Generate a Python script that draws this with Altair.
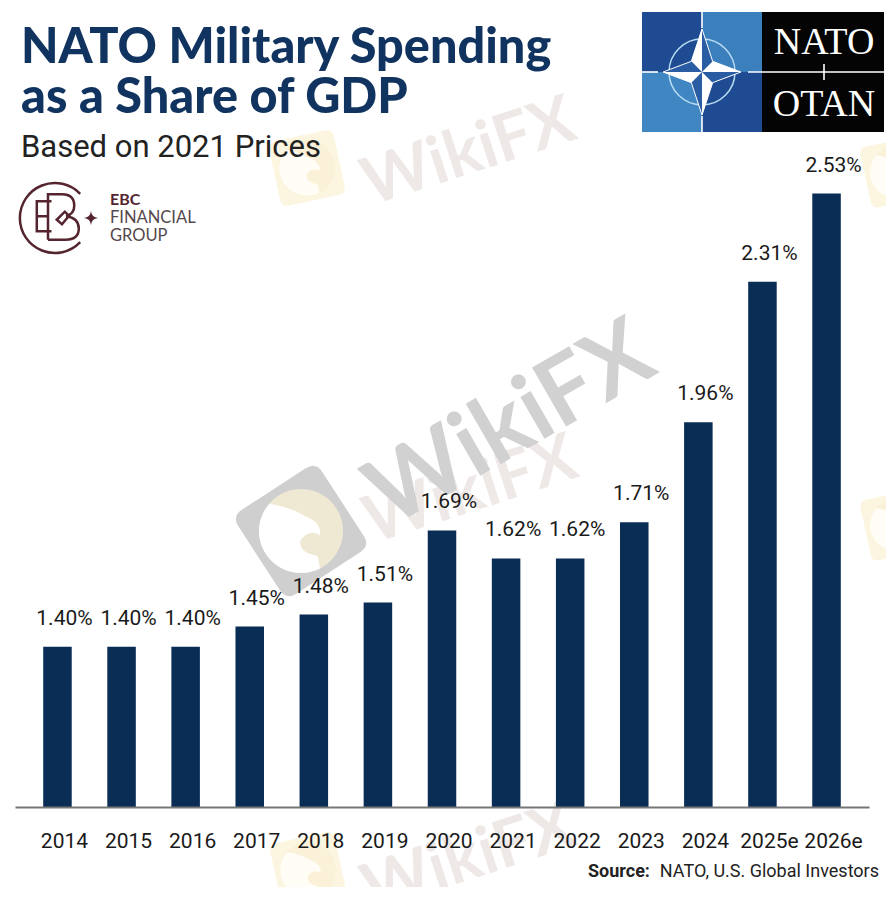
import altair as alt
import pandas as pd

years = ["2014","2015","2016","2017","2018","2019","2020","2021","2022","2023","2024","2025e","2026e"]
shares = [1.40,1.40,1.40,1.45,1.48,1.51,1.69,1.62,1.62,1.71,1.96,2.31,2.53]
labels = ["1.40%","1.40%","1.40%","1.45%","1.48%","1.51%","1.69%","1.62%","1.62%","1.71%","1.96%","2.31%","2.53%"]

NAVY = "#0a2d56"
BODY = "Roboto"
OX, OY = 15, 8
one = alt.Data(values=[{"a": 1}])

def txt(s, x, y, size, color="#1a1a1a", font=BODY, weight="normal", align="left", angle=0, opacity=1):
    return alt.Chart(one).mark_text(text=s, x=x-OX, y=y-OY, fontSize=size, color=color, font=font,
                                    fontWeight=weight, align=align, baseline="alphabetic",
                                    angle=angle % 360, opacity=opacity)

def box(x, x2, y, y2, color):
    return alt.Chart(one).mark_rect(x=x-OX, x2=x2-OX, y=y-OY, y2=y2-OY, color=color)

def line(x, x2, y, y2, color, w):
    return alt.Chart(one).mark_rule(color=color, strokeWidth=w).encode(
        x=alt.value(x-OX), x2=alt.value(x2-OX), y=alt.value(y-OY), y2=alt.value(y2-OY))

def shape(path, x, y, extent, fill=None, stroke=None, w=0, angle=0, opacity=1):
    kw = dict(shape=path, x=x-OX, y=y-OY, size=extent*extent, opacity=opacity, angle=angle % 360)
    if fill:
        kw.update(filled=True, fill=fill, strokeWidth=0)
    else:
        kw.update(filled=False, stroke=stroke, strokeWidth=w, fill="transparent")
    return alt.Chart(one).mark_point(**kw)

ROUND = "M-0.76,-1 L0.76,-1 Q1,-1 1,-0.76 L1,0.76 Q1,1 0.76,1 L-0.76,1 Q-1,1 -1,0.76 L-1,-0.76 Q-1,-1 -0.76,-1 Z"
CIRC = "M1,0 A1,1 0 1,1 -1,0 A1,1 0 1,1 1,0 Z"
HEAD = ("M-1,0 A1,1 0 0,1 -0.75,-0.65 Q-0.2,-0.55 0.1,-0.35 Q0.5,-0.2 0.45,0.1 Q0.2,-0.05 0,0.2 "
        "Q-0.1,0.5 0.4,0.6 L0.45,0.89 A1,1 0 0,1 -1,0 Z")

def badge(x, y, side, angle, sq, circ, eagle, opacity=1):
    r = side * 0.84
    return [shape(ROUND, x, y, side, fill=sq, angle=angle, opacity=opacity),
            shape(CIRC, x, y, r, fill=eagle, opacity=opacity),
            shape(HEAD, x, y, r, fill=circ, opacity=opacity)]

STAR_OUT = "M0,-1.05 L0.26,-0.26 L0.95,0 L0.26,0.26 L0,1.05 L-0.26,0.26 L-0.95,0 L-0.26,-0.26 Z"
STAR_HALF = "M0,-1.05 L0,0 L-0.26,-0.26 Z M0.95,0 L0,0 L0.26,-0.26 Z M0,1.05 L0,0 L0.26,0.26 Z M-0.95,0 L0,0 L-0.26,0.26 Z"

LOGO_E = ("M-0.1,-0.48 L-0.52,-0.48 L-0.52,0.38 L-0.1,0.38 M-0.52,-0.05 L-0.2,-0.05 "
          "M-0.2,0.62 L-0.2,-0.68 L0.2,-0.68 Q0.55,-0.68 0.55,-0.35 Q0.55,-0.12 0.32,-0.05 "
          "Q0.68,0 0.68,0.3 Q0.68,0.62 0.3,0.62 L-0.2,0.62 M0.05,0.05 L0.28,-0.18 L0.4,-0.06 L0.2,0.18 Z")
ARC = "M0.72,-0.69 A1,1 0 1,0 0.72,0.69"
SPARK = "M0,-1 Q0.1,-0.1 1,0 Q0.1,0.1 0,1 Q-0.1,0.1 -1,0 Q-0.1,-0.1 0,-1 Z"

LIGHT = "#eee9e7"
PALE = "#fcf5df"

marks = []
# watermarks
marks.append(txt("WikiFX", 475, 172, 66, LIGHT, "Lato", "bold", "center", -18))
marks.append(txt("WikiFX", 475, 878, 66, LIGHT, "Lato", "bold", "center", -18))
marks.append(txt("WikiFX", 477, 510, 66, LIGHT, "Lato", "bold", "center", -18))
marks.append(txt("WikiFX", 525, 450, 94, "#d2d1d1", "Lato", "bold", "center", -30))
marks += badge(307, 168, 66, -12, PALE, "#fffdf6", "#faf1d8")
marks += badge(308, 870, 66, -12, PALE, "#fffdf6", "#faf1d8")
marks += badge(896, 172, 62, -12, PALE, "#fffdf6", "#faf1d8")
marks += badge(896, 525, 62, -12, PALE, "#fffdf6", "#faf1d8")
marks += badge(301, 531, 100, -33, "#cfcfcf", "#ffffff", "#efe8d3")

# bars + axis + labels
df = pd.DataFrame({"year": years, "share": shares, "label": labels})
x = alt.X("year:N", sort=years, title=None,
          scale=alt.Scale(paddingInner=0.555, paddingOuter=0.44),
          axis=alt.Axis(labelAngle=0, labelFont=BODY, labelFontSize=21, labelColor="#1a1a1a", labelPadding=23,
                        labelOffset=7, labelOverlap=False, ticks=False, domainColor="#777777", domainWidth=2,
                        grid=False, labelBound=False, labelFlush=False, zindex=1))
y = alt.Y("share:Q", title=None, axis=None, scale=alt.Scale(domain=[1.0, 2.993], zero=False, clamp=True))
bars = alt.Chart(df).mark_bar(color=NAVY).encode(x=x, y=y)
vals = alt.Chart(df).mark_text(font=BODY, fontSize=21, color="#1a1a1a", dx=7, dy=-22, baseline="alphabetic").encode(
    x=x, y=y, text="label:N")
marks += [bars, vals]

# title block
marks.append(txt("NATO Military Spending", 21, 63, 48.6, "#10335f", "Lato", 900))
marks.append(txt("as a Share of GDP", 21, 113, 48.6, "#10335f", "Lato", 900))
marks.append(txt("Based on 2021 Prices", 21, 157, 31, "#222222"))

# EBC logo
MAROON = "#55252f"
marks.append(shape(ARC, 55, 218, 70, stroke=MAROON, w=2.5))
marks.append(shape(LOGO_E, 55, 218, 70, stroke=MAROON, w=2.5))
marks.append(shape(SPARK, 91, 218, 14, fill=MAROON))
marks.append(txt("EBC", 110, 205, 16, MAROON, "Lato", "bold"))
marks.append(txt("FINANCIAL", 110, 223, 16.5, "#55484c", "Lato"))
marks.append(txt("GROUP", 110, 241, 16.5, "#55484c", "Lato"))

# NATO logo
marks += [box(642, 702, 12, 72, "#1f4b92"), box(702, 762, 12, 72, "#3b80bd"),
          box(642, 702, 72, 132, "#3f86c3"), box(702, 762, 72, 132, "#1f4b92"),
          box(762, 884, 12, 132, "#040404")]
marks += [line(642, 658, 72, 72, "#ffffff", 1.6), line(748, 884, 72, 72, "#ffffff", 1.6),
          line(702, 702, 12, 28, "#ffffff", 1.6), line(702, 702, 116, 132, "#ffffff", 1.6),
          line(824, 824, 64, 80, "#ffffff", 1.6)]
marks.append(shape(CIRC, 702, 72, 66, stroke="#b7dcf2", w=1.5))
marks.append(shape(STAR_OUT, 702, 72, 82, fill="#2a5ca3"))
marks.append(shape(STAR_OUT, 702, 72, 82, stroke="#ffffff", w=1))
marks.append(shape(STAR_HALF, 702, 72, 82, fill="#ffffff"))
marks.append(txt("NATO", 824, 54, 38, "#ffffff", "Liberation Serif", align="center"))
marks.append(txt("OTAN", 824, 116, 38, "#ffffff", "Liberation Serif", align="center"))

# source
marks.append(txt("Source:", 588, 877, 18, "#222222", BODY, "bold"))
marks.append(txt("NATO, U.S. Global Investors", 879, 877, 18, "#222222", align="right"))

chart = alt.layer(*marks).properties(
    width=854, height=799, background="white",
    padding={"left": 7, "top": 0, "right": 17, "bottom": 80},
    autosize=alt.AutoSizeParams(type="none"),
).configure_view(stroke=None)

chart.save("out.html", embed_options={"renderer": "svg", "actions": False})
